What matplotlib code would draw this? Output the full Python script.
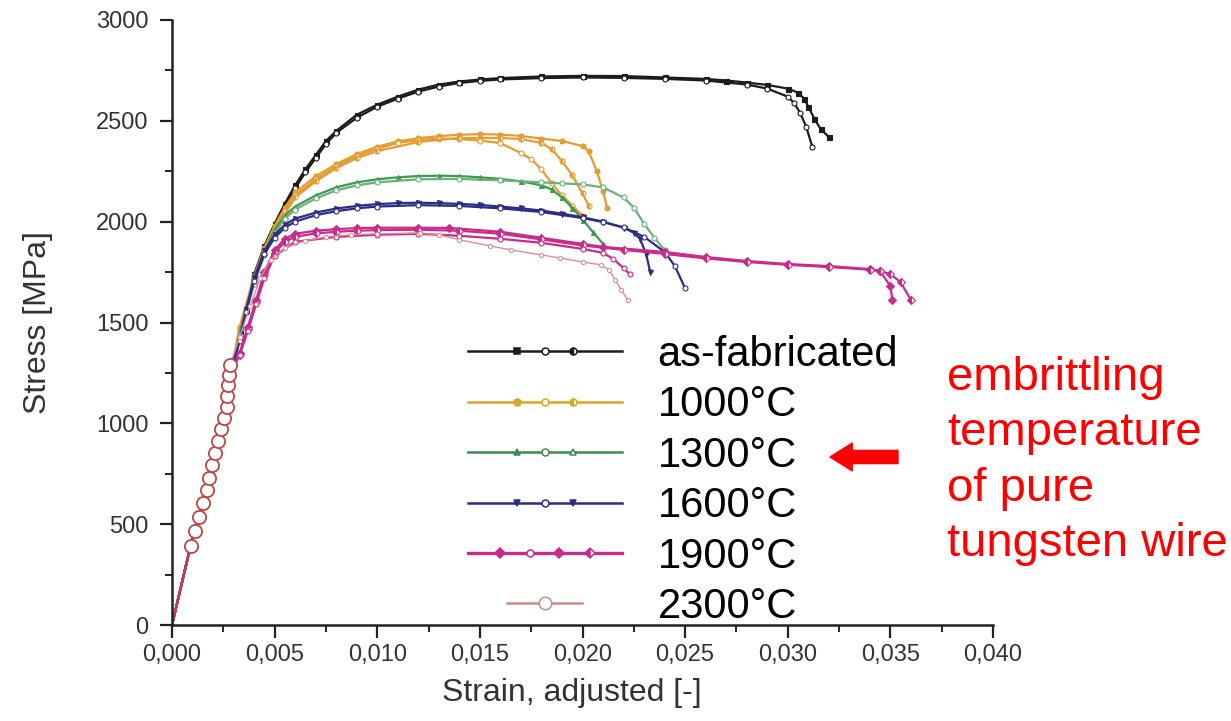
import matplotlib
matplotlib.use('Agg')
import matplotlib.pyplot as plt
from matplotlib import font_manager
from matplotlib.lines import Line2D
from matplotlib.legend_handler import HandlerBase
from matplotlib.ticker import MultipleLocator, FuncFormatter

plt.rcParams['font.family'] = 'Liberation Sans'

# font stretta per le etichette dei tick, se presente
installed = {f.name for f in font_manager.fontManager.ttflist}
tick_family = 'Liberation Sans Narrow' if 'Liberation Sans Narrow' in installed else 'Liberation Sans'
tick_size = 20 if tick_family == 'Liberation Sans Narrow' else 17

# ---------------- dati ----------------
# tratto elastico comune (sotto ~1300 MPa tutte le curve coincidono)
elastic_x = [0.0, 0.0009, 0.0015, 0.0020, 0.0025, 0.0029]
elastic_y = [0, 390, 610, 830, 1030, 1260]

# as-fabricated
asfab_a_x = [0.0033, 0.0036, 0.0040, 0.0045, 0.0050, 0.0055, 0.0060, 0.0065, 0.0070, 0.0075,
             0.0080, 0.0090, 0.0100, 0.0110, 0.0120, 0.0130, 0.0140, 0.0150, 0.0160, 0.0180,
             0.0200, 0.0220, 0.0240, 0.0260, 0.0270, 0.0280, 0.0290, 0.0300, 0.0305, 0.0308,
             0.0310, 0.0313, 0.0316, 0.0320]
asfab_a_y = [1450, 1560, 1740, 1880, 1990, 2090, 2180, 2260, 2330, 2400,
             2450, 2530, 2580, 2620, 2655, 2680, 2695, 2705, 2712, 2720,
             2723, 2722, 2715, 2708, 2700, 2690, 2678, 2660, 2640, 2610,
             2570, 2510, 2460, 2420]
asfab_b_x = [0.0033, 0.0036, 0.0040, 0.0045, 0.0050, 0.0055, 0.0060, 0.0065, 0.0070, 0.0075,
             0.0080, 0.0090, 0.0100, 0.0110, 0.0120, 0.0130, 0.0140, 0.0150, 0.0160, 0.0180,
             0.0200, 0.0220, 0.0240, 0.0260, 0.0280, 0.0290, 0.0300, 0.0303, 0.0306, 0.0309,
             0.0312]
asfab_b_y = [1440, 1550, 1720, 1860, 1975, 2075, 2165, 2245, 2315, 2385,
             2440, 2515, 2570, 2610, 2645, 2670, 2688, 2698, 2705, 2712,
             2715, 2713, 2708, 2700, 2680, 2660, 2620, 2590, 2540, 2470,
             2370]

# 1000 °C
t1000_a_x = [0.0033, 0.0040, 0.0045, 0.0050, 0.0055, 0.0060, 0.0070, 0.0080, 0.0090, 0.0100,
             0.0110, 0.0120, 0.0130, 0.0140, 0.0150, 0.0160, 0.0170, 0.0180, 0.0190, 0.0200,
             0.0203, 0.0207, 0.0210, 0.0212]
t1000_a_y = [1480, 1730, 1870, 1980, 2070, 2145, 2225, 2285, 2335, 2372,
             2398, 2414, 2424, 2431, 2434, 2432, 2425, 2412, 2400, 2375,
             2350, 2250, 2150, 2070]
t1000_b_x = [0.0033, 0.0040, 0.0045, 0.0050, 0.0055, 0.0060, 0.0070, 0.0080, 0.0090, 0.0100,
             0.0110, 0.0120, 0.0130, 0.0140, 0.0150, 0.0160, 0.0170, 0.0175, 0.0180, 0.0185,
             0.0190, 0.0195, 0.0200]
t1000_b_y = [1470, 1720, 1860, 1965, 2055, 2130, 2210, 2275, 2325, 2362,
             2390, 2405, 2412, 2410, 2402, 2390, 2340, 2310, 2260, 2190,
             2130, 2080, 2030]
t1000_c_x = [0.0033, 0.0040, 0.0050, 0.0060, 0.0070, 0.0080, 0.0090, 0.0100, 0.0120, 0.0140,
             0.0160, 0.0170, 0.0180, 0.0185, 0.0190, 0.0195, 0.0200, 0.0203]
t1000_c_y = [1470, 1710, 1955, 2120, 2200, 2265, 2315, 2350, 2395, 2415,
             2415, 2410, 2390, 2360, 2300, 2230, 2140, 2080]

# 1300 °C
t1300_a_x = [0.0033, 0.0040, 0.0045, 0.0050, 0.0055, 0.0060, 0.0070, 0.0080, 0.0090, 0.0100,
             0.0110, 0.0120, 0.0130, 0.0140, 0.0150, 0.0160, 0.0170, 0.0180, 0.0185, 0.0190,
             0.0195, 0.0200, 0.0205, 0.0210]
t1300_a_y = [1450, 1700, 1850, 1960, 2030, 2075, 2130, 2170, 2195, 2210,
             2220, 2226, 2228, 2226, 2220, 2212, 2200, 2180, 2160, 2120,
             2070, 2010, 1950, 1890]
t1300_b_x = [0.0033, 0.0040, 0.0045, 0.0050, 0.0055, 0.0060, 0.0070, 0.0080, 0.0090, 0.0100,
             0.0120, 0.0140, 0.0160, 0.0180, 0.0190, 0.0200, 0.0210, 0.0220, 0.0225, 0.0230,
             0.0235, 0.0240]
t1300_b_y = [1440, 1690, 1835, 1945, 2015, 2060, 2115, 2155, 2180, 2195,
             2210, 2212, 2205, 2195, 2190, 2185, 2170, 2120, 2070, 1990,
             1920, 1860]

# 1600 °C
t1600_a_x = [0.0033, 0.0036, 0.0040, 0.0045, 0.0050, 0.0055, 0.0060, 0.0070, 0.0080, 0.0090,
             0.0100, 0.0110, 0.0120, 0.0130, 0.0140, 0.0150, 0.0160, 0.0170, 0.0180, 0.0190,
             0.0200, 0.0210, 0.0220, 0.0225, 0.0228, 0.0231, 0.0233]
t1600_a_y = [1420, 1560, 1720, 1855, 1935, 1985, 2015, 2045, 2065, 2078,
             2087, 2092, 2094, 2092, 2088, 2083, 2075, 2066, 2055, 2040,
             2022, 2000, 1970, 1945, 1915, 1840, 1750]
t1600_b_x = [0.0033, 0.0036, 0.0040, 0.0045, 0.0050, 0.0055, 0.0060, 0.0070, 0.0080, 0.0090,
             0.0100, 0.0120, 0.0140, 0.0160, 0.0180, 0.0200, 0.0210, 0.0220, 0.0230, 0.0240,
             0.0245, 0.0250]
t1600_b_y = [1410, 1550, 1705, 1840, 1920, 1970, 2000, 2032, 2052, 2066,
             2075, 2082, 2078, 2066, 2048, 2018, 1998, 1972, 1925, 1850,
             1780, 1670]

# 1900 °C
t1900_a_x = [0.0033, 0.0037, 0.0041, 0.0045, 0.0050, 0.0055, 0.0060, 0.0070, 0.0080, 0.0090,
             0.0100, 0.0120, 0.0135, 0.0160, 0.0180, 0.0200, 0.0210, 0.0240, 0.0260, 0.0280,
             0.0300, 0.0320, 0.0340, 0.0345, 0.0350, 0.0351]
t1900_a_y = [1350, 1480, 1612, 1750, 1860, 1915, 1940, 1955, 1963, 1968,
             1970, 1970, 1969, 1950, 1920, 1890, 1875, 1850, 1825, 1805,
             1790, 1780, 1765, 1755, 1680, 1612]
t1900_b_x = [0.0033, 0.0037, 0.0041, 0.0045, 0.0050, 0.0055, 0.0060, 0.0070, 0.0080, 0.0090,
             0.0100, 0.0120, 0.0140, 0.0160, 0.0180, 0.0200, 0.0220, 0.0240, 0.0260, 0.0280,
             0.0300, 0.0320, 0.0340, 0.0345, 0.0350, 0.0355, 0.0360]
t1900_b_y = [1340, 1470, 1600, 1735, 1845, 1900, 1925, 1942, 1950, 1955,
             1958, 1960, 1955, 1940, 1912, 1882, 1860, 1840, 1818, 1800,
             1786, 1775, 1762, 1755, 1740, 1700, 1612]
t1900_c_x = [0.0033, 0.0037, 0.0041, 0.0045, 0.0050, 0.0060, 0.0080, 0.0100, 0.0120, 0.0140,
             0.0160, 0.0180, 0.0200, 0.0210, 0.0215, 0.0220, 0.0223]
t1900_c_y = [1340, 1460, 1590, 1720, 1830, 1900, 1925, 1935, 1940, 1930,
             1915, 1895, 1865, 1845, 1815, 1770, 1740]

# 2300 °C: cerchi grandi sul tratto elastico, poi tratto plastico
t2300_el_x = [0.0, 0.00093, 0.00112, 0.00132, 0.00151, 0.00171, 0.00180, 0.00195, 0.00209,
              0.00224, 0.00239, 0.00253, 0.00268, 0.00268, 0.00273, 0.00278, 0.00283]
t2300_el_y = [0, 392, 466, 536, 605, 670, 729, 794, 853,
              913, 972, 1027, 1081, 1136, 1190, 1240, 1290]
t2300_pl_x = [0.00283, 0.0033, 0.0038, 0.0043, 0.0048, 0.0055, 0.0065, 0.0075, 0.0087, 0.0100,
              0.0121, 0.0130, 0.0140, 0.0155, 0.0165, 0.0180, 0.0189, 0.0200, 0.0209, 0.0213,
              0.0216, 0.0219, 0.0222]
t2300_pl_y = [1290, 1430, 1580, 1720, 1810, 1870, 1905, 1925, 1935, 1940,
              1944, 1935, 1910, 1880, 1860, 1835, 1820, 1800, 1786, 1760,
              1711, 1660, 1612]

labels = ['as-fabricated', '1000°C', '1300°C', '1600°C', '1900°C', '2300°C']

c_black = '#1c1c1c'
c_orange = '#E59C33'
c_green = '#3C9A52'
c_blue = '#2C2C86'
c_magenta = '#C72B8C'
c_2300 = '#B84848'
c_2300_light = '#D99090'

fig = plt.figure(figsize=(12.31, 7.21), dpi=100)
ax = fig.add_axes([172 / 1231, 96 / 721, 821 / 1231, 605 / 721])


def draw(x, y, color, marker, fill='full', lw=1.6, ms=3.6):
    xs = elastic_x + x
    ys = elastic_y + y
    ax.plot(xs, ys, color=color, lw=lw, marker=marker, ms=ms, mec=color,
            mfc=color if fill != 'none' else 'white', fillstyle=fill if fill != 'none' else 'full',
            markerfacecoloralt='white', mew=0.8, markevery=range(len(elastic_x), len(xs)))


draw(asfab_a_x, asfab_a_y, c_black, 's')
draw(asfab_b_x, asfab_b_y, c_black, 'o', 'none')
draw(t1000_a_x, t1000_a_y, c_orange, 'o')
draw(t1000_b_x, t1000_b_y, c_orange, 'o', 'none')
draw(t1000_c_x, t1000_c_y, c_orange, 'o', 'left')
draw(t1300_a_x, t1300_a_y, c_green, '^')
draw(t1300_b_x, t1300_b_y, '#6DB07A', 'o', 'none')
draw(t1600_a_x, t1600_a_y, c_blue, 'v')
draw(t1600_b_x, t1600_b_y, c_blue, 'o', 'none')
draw(t1900_a_x, t1900_a_y, c_magenta, 'D')
draw(t1900_b_x, t1900_b_y, c_magenta, 'D', 'left')
draw(t1900_c_x, t1900_c_y, c_magenta, 'o', 'none')

ax.plot(t2300_pl_x, t2300_pl_y, color=c_2300_light, lw=1.0, marker='o', ms=3,
        mfc='white', mec=c_2300_light, mew=0.8)
ax.plot(t2300_el_x, t2300_el_y, color=c_2300, lw=1.2, marker='o', ms=9.5,
        mfc='white', mec=c_2300, mew=1.3, markevery=range(1, len(t2300_el_x)))

# assi
ax.set_xlim(0, 0.040)
ax.set_ylim(0, 3000)
ax.spines['top'].set_visible(False)
ax.spines['right'].set_visible(False)
for s in ['left', 'bottom']:
    ax.spines[s].set_linewidth(1.8)
    ax.spines[s].set_color('#222222')
ax.xaxis.set_major_locator(MultipleLocator(0.005))
ax.xaxis.set_minor_locator(MultipleLocator(0.0025))
ax.yaxis.set_major_locator(MultipleLocator(500))
ax.yaxis.set_minor_locator(MultipleLocator(250))
ax.xaxis.set_major_formatter(FuncFormatter(lambda v, p: f"{v:.3f}".replace('.', ',')))
ax.tick_params(which='major', length=9, width=1.6, color='#222222', labelsize=tick_size,
               labelcolor='#333333')
ax.tick_params(which='minor', length=5, width=1.4, color='#222222')
ax.tick_params(axis='y', which='major', pad=8)
ax.tick_params(axis='x', which='major', pad=5)
for lab in ax.get_xticklabels() + ax.get_yticklabels():
    lab.set_family(tick_family)

ax.set_xlabel('Strain, adjusted [-]', fontsize=23, color='#333333')
ax.set_ylabel('Stress [MPa]', fontsize=23, color='#333333')
ax.xaxis.set_label_coords(0.487, -0.088)
ax.yaxis.set_label_coords(-0.145, 0.5)


# legenda con più marker per riga
class MarkerRow(HandlerBase):
    def __init__(self, color, marks, span=(0.0, 1.0), lw=1.8, ms=5):
        super().__init__()
        self.color = color
        self.marks = marks
        self.span = span
        self.lw = lw
        self.ms = ms

    def create_artists(self, legend, orig_handle, xdescent, ydescent, width, height, fontsize, trans):
        x0 = -xdescent + self.span[0] * width
        x1 = -xdescent + self.span[1] * width
        yc = -ydescent + height / 2
        arts = [Line2D([x0, x1], [yc, yc], color=self.color, lw=self.lw, transform=trans)]
        for frac, mk, fs in self.marks:
            xm = -xdescent + frac * width
            if fs == 'none':
                kw = dict(mfc='white', fillstyle='full')
            else:
                kw = dict(mfc=self.color, fillstyle=fs, markerfacecoloralt='white')
            arts.append(Line2D([xm], [yc], marker=mk, ms=self.ms, mec=self.color, mew=1.1,
                               ls='none', transform=trans, **kw))
        return arts


proxies = [Line2D([], []) for _ in labels]
handlers = [
    MarkerRow(c_black, [(0.32, 's', 'full'), (0.5, 'o', 'none'), (0.68, 'o', 'left')]),
    MarkerRow('#D8A62A', [(0.32, 'o', 'full'), (0.5, 'o', 'none'), (0.68, 'o', 'left')]),
    MarkerRow('#3F8A55', [(0.32, '^', 'full'), (0.5, 'o', 'none'), (0.68, '^', 'none')]),
    MarkerRow(c_blue, [(0.32, 'v', 'full'), (0.5, 'o', 'none'), (0.68, 'v', 'full')]),
    MarkerRow(c_magenta, [(0.21, 'D', 'full'), (0.4, 'o', 'none'), (0.59, 'D', 'full'), (0.79, 'D', 'left')], lw=2.4),
    MarkerRow('#C98C8C', [(0.5, 'o', 'none')], span=(0.25, 0.74), ms=9),
]
leg = ax.legend(proxies, labels, handler_map=dict(zip(proxies, handlers)),
                loc='upper left', bbox_to_anchor=(468 / 1231, 1 - 335 / 721),
                bbox_transform=fig.transFigure, frameon=False, fontsize=30,
                handlelength=3.7, handletextpad=0.85, labelspacing=0.25,
                borderpad=0, borderaxespad=0)

# annotazione rossa
fig.text(947 / 1231, 1 - 461 / 721, 'embrittling\ntemperature\nof pure\ntungsten wire',
         color='red', fontsize=34, va='center', ha='left', linespacing=1.33)
ax.annotate('', xy=(830 / 1231, 1 - 457 / 721), xytext=(898 / 1231, 1 - 457 / 721),
            xycoords='figure fraction', textcoords='figure fraction',
            arrowprops=dict(arrowstyle='simple,head_length=1.6,head_width=2.0,tail_width=0.95',
                            color='red', mutation_scale=10, shrinkA=0, shrinkB=0))

fig.savefig('out.png', dpi=100)
